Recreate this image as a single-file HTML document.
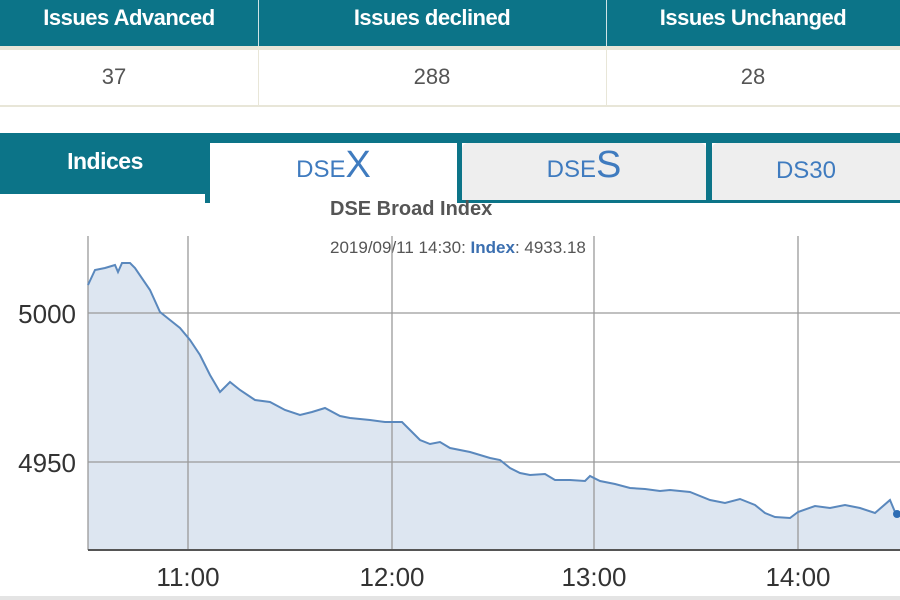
<!DOCTYPE html>
<html><head><meta charset="utf-8"><style>
body{margin:0;width:900px;height:600px;overflow:hidden;background:#fff;font-family:"Liberation Sans",sans-serif;position:relative}
.a{position:absolute}
</style></head><body>
<div class="a" style="left:0;top:0;width:900px;height:46px;background:#0c7488"></div>
<div class="a" style="left:258px;top:0;width:1px;height:46px;background:#cfe3e6"></div>
<div class="a" style="left:606px;top:0;width:1px;height:46px;background:#cfe3e6"></div>
<div class="a" style="left:0;top:5px;width:258px;text-align:center;color:#fff;font-size:22px;font-weight:bold;letter-spacing:-0.5px">Issues Advanced</div>
<div class="a" style="left:258px;top:5px;width:348px;text-align:center;color:#fff;font-size:22px;font-weight:bold;letter-spacing:-0.5px">Issues declined</div>
<div class="a" style="left:606px;top:5px;width:294px;text-align:center;color:#fff;font-size:22px;font-weight:bold;letter-spacing:-0.5px">Issues Unchanged</div>
<div class="a" style="left:0;top:46px;width:900px;height:4px;background:#e8e6d8"></div>
<div class="a" style="left:0;top:105px;width:900px;height:2px;background:#e8e6d8"></div>
<div class="a" style="left:258px;top:50px;width:1px;height:55px;background:#e8e6d8"></div>
<div class="a" style="left:606px;top:50px;width:1px;height:55px;background:#e8e6d8"></div>
<div class="a" style="left:0;top:64px;width:228px;text-align:center;color:#555;font-size:22px">37</div>
<div class="a" style="left:258px;top:64px;width:348px;text-align:center;color:#555;font-size:22px">288</div>
<div class="a" style="left:606px;top:64px;width:294px;text-align:center;color:#555;font-size:22px">28</div>

<div class="a" style="left:0;top:133px;width:900px;height:10px;background:#0c7488"></div>
<div class="a" style="left:0;top:133px;width:210px;height:57px;background:#0c7488"></div>
<div class="a" style="left:0;top:148px;width:210px;text-align:center;color:#fff;font-size:23px;font-weight:bold;letter-spacing:-0.5px">Indices</div>
<div class="a" style="left:0;top:190px;width:205px;height:4px;background:#0c7488"></div>
<div class="a" style="left:205px;top:143px;width:5px;height:60px;background:#0c7488"></div>
<div class="a" style="left:210px;top:143px;width:247px;height:62px;background:#fff;border-radius:6px 6px 0 0"></div>
<div class="a" style="left:457px;top:143px;width:5px;height:60px;background:#0c7488"></div>
<div class="a" style="left:462px;top:143px;width:244px;height:57px;background:#eeeeee;border-radius:6px 6px 0 0"></div>
<div class="a" style="left:706px;top:143px;width:6px;height:60px;background:#0c7488"></div>
<div class="a" style="left:712px;top:143px;width:188px;height:57px;background:#eeeeee;border-radius:6px 0 0 0"></div>
<div class="a" style="left:462px;top:200px;width:438px;height:3px;background:#0c7488"></div>
<div class="a" style="left:210px;top:150px;width:247px;text-align:center;color:#3f7bbf;font-size:24px">DSE<span style="font-size:38px;line-height:30px">X</span></div>
<div class="a" style="left:462px;top:150px;width:244px;text-align:center;color:#3f7bbf;font-size:24px">DSE<span style="font-size:38px;line-height:30px">S</span></div>
<div class="a" style="left:712px;top:157px;width:188px;text-align:center;color:#3f7bbf;font-size:24px">DS30</div>

<div class="a" style="left:330px;top:198px;color:#555;font-size:20px;font-weight:bold">DSE Broad Index</div>
<div class="a" style="left:330px;top:238px;color:#555;font-size:17px">2019/09/11 14:30: <b style="color:#3b6fb0">Index</b>: 4933.18</div>

<svg class="a" style="left:0;top:0" width="900" height="600">
<polygon fill="#dde6f1" points="88,550 88,285 95,270 105,268 115,265 118,272 122,263 130,263 135,268 150,290 160,312 170,320 180,328 190,340 200,355 210,375 220,392 230,382 240,390 255,400 270,402 285,410 300,415 312,412 325,408 340,416 350,418 370,420 385,422 402,422 410,430 420,440 430,444 440,442 450,448 470,452 490,458 500,460 510,468 520,473 530,475 545,474 555,480 570,480 585,481 590,476 600,481 615,484 630,488 645,489 660,491 670,490 690,492 710,500 725,503 740,499 755,505 765,513 775,517 790,518 798,512 815,506 830,508 845,505 860,508 875,513 890,500 895,512 900,512 900,550"/>
<g stroke="#9a9a9a" stroke-width="1.3">
<line x1="88" y1="313" x2="900" y2="313"/><line x1="88" y1="462" x2="900" y2="462"/>
<line x1="188" y1="236" x2="188" y2="550"/><line x1="392" y1="236" x2="392" y2="550"/>
<line x1="594" y1="236" x2="594" y2="550"/><line x1="798" y1="236" x2="798" y2="550"/>
<line x1="88" y1="236" x2="88" y2="550"/>
</g>
<line x1="88" y1="550" x2="900" y2="550" stroke="#555" stroke-width="2"/>
<polyline fill="none" stroke="#5a88bd" stroke-width="2" points="88,285 95,270 105,268 115,265 118,272 122,263 130,263 135,268 150,290 160,312 170,320 180,328 190,340 200,355 210,375 220,392 230,382 240,390 255,400 270,402 285,410 300,415 312,412 325,408 340,416 350,418 370,420 385,422 402,422 410,430 420,440 430,444 440,442 450,448 470,452 490,458 500,460 510,468 520,473 530,475 545,474 555,480 570,480 585,481 590,476 600,481 615,484 630,488 645,489 660,491 670,490 690,492 710,500 725,503 740,499 755,505 765,513 775,517 790,518 798,512 815,506 830,508 845,505 860,508 875,513 890,500 895,512"/>
<circle cx="897" cy="514" r="4" fill="#2e6db4"/>
<g font-size="26" fill="#333" font-family="Liberation Sans, sans-serif">
<text x="76" y="323" text-anchor="end">5000</text>
<text x="76" y="472" text-anchor="end">4950</text>
<text x="188" y="586" text-anchor="middle">11:00</text>
<text x="392" y="586" text-anchor="middle">12:00</text>
<text x="594" y="586" text-anchor="middle">13:00</text>
<text x="798" y="586" text-anchor="middle">14:00</text>
</g>
<rect x="0" y="596" width="900" height="4" fill="#e4e4e4"/>
</svg>
</body></html>
